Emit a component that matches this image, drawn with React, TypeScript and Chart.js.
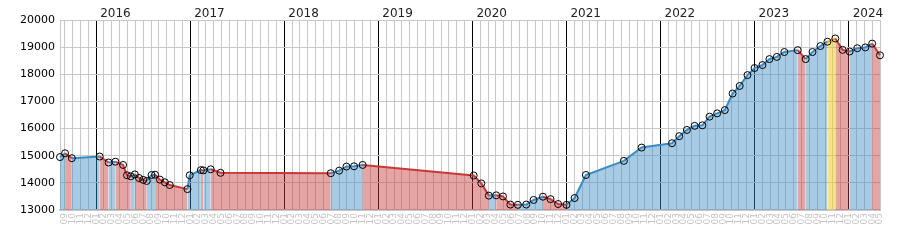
import React, { useEffect, useRef } from 'react';
import { Chart, registerables } from 'chart.js';

Chart.register(...registerables);

const dates: string[] = [
  '2015-08-13', '2015-09-02', '2015-09-28', '2016-01-15', '2016-02-18', '2016-03-15',
  '2016-04-14', '2016-04-29', '2016-05-14', '2016-05-30', '2016-06-15', '2016-07-01',
  '2016-07-15', '2016-08-03', '2016-08-17', '2016-09-05', '2016-09-24', '2016-10-13',
  '2016-12-21', '2016-12-30', '2017-02-11', '2017-02-20', '2017-03-20', '2017-04-27',
  '2018-06-29', '2018-08-01', '2018-08-30', '2018-09-28', '2018-11-01', '2020-01-06',
  '2020-02-05', '2020-03-04', '2020-04-02', '2020-04-28', '2020-05-27', '2020-06-25',
  '2020-07-28', '2020-08-26', '2020-10-01', '2020-10-31', '2020-11-29', '2021-01-01',
  '2021-02-02', '2021-03-16', '2021-08-11', '2021-10-19', '2022-02-14', '2022-03-13',
  '2022-04-12', '2022-05-12', '2022-06-11', '2022-07-09', '2022-08-08', '2022-09-07',
  '2022-10-07', '2022-11-04', '2022-12-04', '2023-01-01', '2023-02-01', '2023-02-26',
  '2023-03-27', '2023-04-25', '2023-06-16', '2023-07-17', '2023-08-13', '2023-09-13',
  '2023-10-10', '2023-11-10', '2023-12-08', '2024-01-05', '2024-02-04', '2024-03-05',
  '2024-04-01', '2024-05-01',
];

const values: number[] = [
  14950, 15090, 14910, 14970, 14750, 14780,
  14660, 14280, 14240, 14310, 14180, 14110,
  14070, 14290, 14300, 14120, 14020, 13920,
  13770, 14280, 14470, 14460, 14500, 14370,
  14355, 14450, 14600, 14610, 14660, 14270,
  13980, 13530, 13540, 13500, 13200, 13190,
  13200, 13370, 13490, 13400, 13220, 13190,
  13440, 14290, 14810, 15300, 15460, 15720,
  15950, 16100, 16120, 16440, 16560, 16680,
  17290, 17570, 17970, 18230, 18340, 18560,
  18640, 18820, 18890, 18560, 18820, 19040,
  19200, 19320, 18900, 18840, 18960, 18990,
  19130, 18700,
];

const yearLabels: string[] = ['2016', '2017', '2018', '2019', '2020', '2021', '2022', '2023', '2024'];
const monthLabels: string[] = ['01', '02', '03', '04', '05', '06', '07', '08', '09', '10', '11', '12'];

const BASE_YEAR = 2015;

function toMonthIndex(d: string): number {
  const [y, m, day] = d.split('-').map(Number);
  const dim = new Date(y, m, 0).getDate();
  return (y - BASE_YEAR) * 12 + (m - 1) + (day - 1) / dim;
}

const BLUE_LINE = '#3b8bc3';
const BLUE_FILL = 'rgba(59,139,195,0.45)';
const RED_LINE = '#c83838';
const RED_FILL = 'rgba(200,56,56,0.45)';
const YEL_LINE = '#e8b400';
const YEL_FILL = 'rgba(240,200,40,0.55)';

export default function App() {
  const ref = useRef<HTMLCanvasElement | null>(null);

  useEffect(() => {
    if (!ref.current) return;
    const points = dates.map((d, i) => ({ x: toMonthIndex(d), y: values[i] }));
    const maxIdx = values.indexOf(Math.max(...values));
    const xMin = points[0].x;
    const xMax = points[points.length - 1].x;

    const kind = (c: any) => {
      if (c.p1DataIndex === maxIdx) return 'y';
      return c.p1.parsed.y > c.p0.parsed.y ? 'b' : 'r';
    };

    const yearPlugin = {
      id: 'yearLabels',
      afterDraw(chart: any) {
        const { ctx } = chart;
        const xs = chart.scales.x;
        ctx.save();
        ctx.font = '12px "DejaVu Sans"';
        ctx.fillStyle = '#222';
        ctx.textAlign = 'left';
        ctx.textBaseline = 'alphabetic';
        yearLabels.forEach((y) => {
          const px = xs.getPixelForValue((Number(y) - BASE_YEAR) * 12);
          ctx.fillText(y, px + 4, 17);
        });
        ctx.restore();
      },
    };

    const chart = new Chart(ref.current, {
      type: 'line',
      data: {
        datasets: [
          {
            data: points,
            borderWidth: 2,
            borderColor: BLUE_LINE,
            backgroundColor: BLUE_FILL,
            fill: 'start',
            tension: 0,
            clip: false as any,
            pointRadius: 3.5,
            pointHoverRadius: 3.5,
            pointBorderWidth: 1,
            pointBorderColor: '#000',
            pointBackgroundColor: 'rgba(255,255,255,0)',
            segment: {
              borderColor: (c: any) => {
                const k = kind(c);
                return k === 'y' ? YEL_LINE : k === 'b' ? BLUE_LINE : RED_LINE;
              },
              backgroundColor: (c: any) => {
                const k = kind(c);
                return k === 'y' ? YEL_FILL : k === 'b' ? BLUE_FILL : RED_FILL;
              },
            },
          } as any,
        ],
      },
      options: {
        responsive: false,
        animation: false,
        events: [],
        layout: { padding: { top: 20, right: 20, left: 0, bottom: 0 } },
        plugins: {
          legend: { display: false },
          tooltip: { enabled: false },
        },
        scales: {
          x: {
            type: 'linear',
            min: xMin,
            max: xMax,
            afterBuildTicks: (scale: any) => {
              const t = [];
              for (let v = Math.ceil(xMin); v <= Math.floor(xMax); v++) t.push({ value: v });
              scale.ticks = t;
            },
            afterFit: (scale: any) => {
              scale.height = 40;
            },
            grid: {
              color: (c: any) => (c.tick && c.tick.value % 12 === 0 ? '#000' : '#c8c8c8'),
              drawTicks: false,
              lineWidth: 1,
            },
            border: { color: '#c8c8c8', width: 2 },
            ticks: {
              autoSkip: false,
              minRotation: 90,
              maxRotation: 90,
              padding: 3,
              color: '#c4c4c4',
              font: { family: 'DejaVu Sans', size: 9 },
              callback: (v: any) => monthLabels[((Math.round(Number(v)) % 12) + 12) % 12],
            },
          },
          y: {
            type: 'linear',
            min: 13000,
            max: 20000,
            afterFit: (scale: any) => {
              scale.width = 60;
            },
            grid: { color: '#c8c8c8', drawTicks: false, lineWidth: 1 },
            border: { color: '#c8c8c8', width: 1 },
            ticks: {
              stepSize: 1000,
              padding: 5,
              color: '#000',
              font: { family: 'DejaVu Sans', size: 11 },
              callback: (v: any) => String(v),
            },
          },
        },
      } as any,
      plugins: [yearPlugin],
    });
    return () => chart.destroy();
  }, []);

  return (
    <div style={{ position: 'absolute', left: 0, top: 0, width: 900, height: 250, background: '#fff' }}>
      <canvas ref={ref} width={900} height={250} />
    </div>
  );
}
